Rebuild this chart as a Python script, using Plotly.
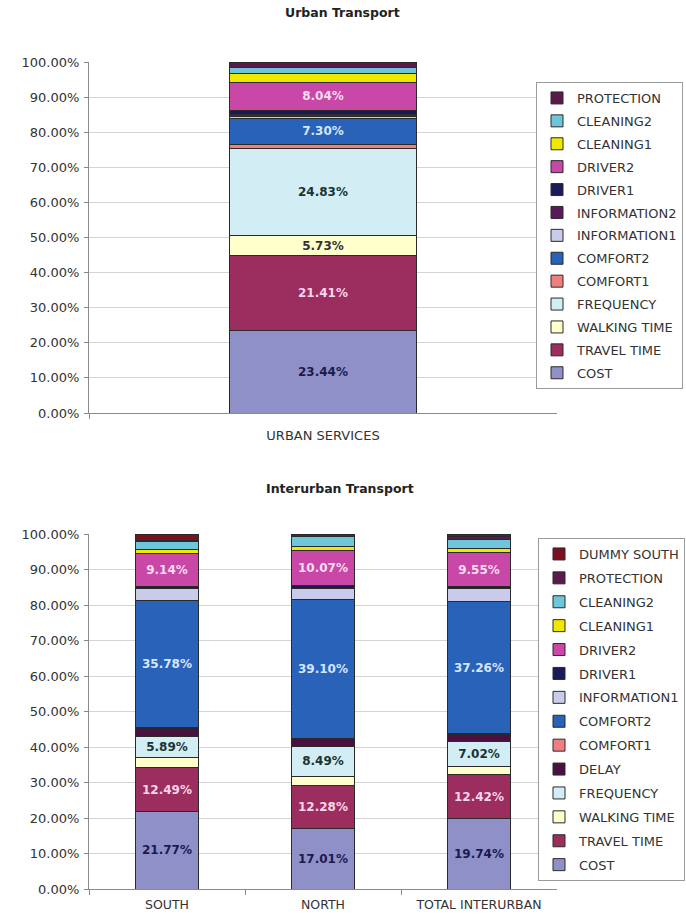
import plotly.graph_objects as go

# ---------------- data ----------------
urban_categories = ["URBAN SERVICES"]
urban_series = ["COST", "TRAVEL TIME", "WALKING TIME", "FREQUENCY", "COMFORT1", "COMFORT2",
                "INFORMATION1", "INFORMATION2", "DRIVER1", "DRIVER2", "CLEANING1", "CLEANING2",
                "PROTECTION"]
urban_values = [23.44, 21.41, 5.73, 24.83, 1.20, 7.30, 0.50, 0.60, 1.20, 8.04, 2.60, 1.70, 1.45]
urban_labelled = ["COST", "TRAVEL TIME", "WALKING TIME", "FREQUENCY", "COMFORT2", "DRIVER2"]

inter_categories = ["SOUTH", "NORTH", "TOTAL INTERURBAN"]
inter_series = ["COST", "TRAVEL TIME", "WALKING TIME", "FREQUENCY", "DELAY", "COMFORT1", "COMFORT2",
                "INFORMATION1", "DRIVER1", "DRIVER2", "CLEANING1", "CLEANING2", "PROTECTION",
                "DUMMY SOUTH"]
cost = [21.77, 17.01, 19.74]
travel_time = [12.49, 12.28, 12.42]
walking_time = [2.80, 2.50, 2.30]
frequency = [5.89, 8.49, 7.02]
delay = [2.40, 2.00, 2.00]
comfort1 = [0.20, 0.10, 0.20]
comfort2 = [35.78, 39.10, 37.26]
information1 = [3.40, 3.30, 3.60]
driver1 = [0.60, 0.60, 0.60]
driver2 = [9.14, 10.07, 9.55]
cleaning1 = [1.10, 0.90, 1.30]
cleaning2 = [2.30, 2.90, 2.60]
protection = [0.40, 0.75, 0.60]
dummy_south = [1.73, 0.00, 0.81]
inter_values = [cost, travel_time, walking_time, frequency, delay, comfort1, comfort2,
                information1, driver1, driver2, cleaning1, cleaning2, protection, dummy_south]
inter_labelled = ["COST", "TRAVEL TIME", "FREQUENCY", "COMFORT2", "DRIVER2"]

y_ticks = [0, 10, 20, 30, 40, 50, 60, 70, 80, 90, 100]
y_tick_labels = [f"{t:.2f}%" for t in y_ticks]

# ---------------- styles ----------------
colors = {
    "COST": "#9090C8", "TRAVEL TIME": "#9B2D5F", "WALKING TIME": "#FFFFCC",
    "FREQUENCY": "#D2EEF4", "COMFORT1": "#F08080", "COMFORT2": "#2862B9",
    "INFORMATION1": "#CACAEA", "INFORMATION2": "#5A1A5A", "DRIVER1": "#1A1A5A",
    "DRIVER2": "#C847A7", "CLEANING1": "#F0E800", "CLEANING2": "#6EC6DA",
    "PROTECTION": "#5A1A4A", "DELAY": "#4A1040", "DUMMY SOUTH": "#7A1020",
}
text_colors = {
    "COST": "#1A1A4E", "TRAVEL TIME": "#F8D6EA", "WALKING TIME": "#333333",
    "FREQUENCY": "#1A3333", "COMFORT2": "#D6E6FF", "DRIVER2": "#FADCF0",
}
FONT = "DejaVu Sans"

fig = go.Figure()

n_u = len(urban_series)
for i, (name, v) in enumerate(zip(urban_series, urban_values)):
    show = name in urban_labelled
    fig.add_trace(go.Bar(
        x=urban_categories, y=[v], name=name, xaxis="x", yaxis="y",
        marker=dict(color=colors[name], line=dict(color="#2A2A2A", width=1)),
        text=[f"{v:.2f}%" if show else ""], textposition="inside",
        insidetextanchor="middle", textangle=0,
        insidetextfont=dict(family=FONT, size=12, color=text_colors.get(name, "#000"), weight="bold"),
        legend="legend", legendgroup="u_" + name, legendrank=100 + n_u - i, hoverinfo="name+y",
    ))

n_i = len(inter_series)
for i, (name, vals) in enumerate(zip(inter_series, inter_values)):
    show = name in inter_labelled
    fig.add_trace(go.Bar(
        x=inter_categories, y=vals, name=name, xaxis="x2", yaxis="y2",
        marker=dict(color=colors[name], line=dict(color="#2A2A2A", width=1)),
        text=[f"{v:.2f}%" if show else "" for v in vals], textposition="inside",
        insidetextanchor="middle", textangle=0,
        insidetextfont=dict(family=FONT, size=12, color=text_colors.get(name, "#000"), weight="bold"),
        legend="legend2", legendgroup="i_" + name, legendrank=100 + n_i - i, hoverinfo="name+y",
    ))

xdom = [89 / 686, 557 / 686]
axis_common = dict(
    showgrid=False, showline=True, linecolor="#8A8A8A", linewidth=1,
    ticks="outside", ticklen=5, tickcolor="#8A8A8A", tickson="boundaries",
    fixedrange=True, automargin=False,
)
yaxis_common = dict(
    range=[0, 100], tickvals=y_ticks, ticktext=y_tick_labels,
    showgrid=True, gridcolor="#D4D4D4", gridwidth=1,
    showline=True, linecolor="#8A8A8A", linewidth=1,
    ticks="outside", ticklen=4, tickcolor="#8A8A8A",
    tickfont=dict(family=FONT, size=13, color="#333333"), zeroline=False,
    ticklabelstandoff=2, fixedrange=True, automargin=False,
)

legend_common = dict(
    xanchor="left", yanchor="top", bgcolor="#FFFFFF", bordercolor="#9A9A9A", borderwidth=1,
    font=dict(family=FONT, size=13, color="#333333"), traceorder="grouped",
    itemclick=False, itemdoubleclick=False,
)

fig.update_layout(
    width=686, height=916, margin=dict(l=0, r=0, t=0, b=0, autoexpand=False),
    paper_bgcolor="#FFFFFF", plot_bgcolor="#FFFFFF",
    barmode="stack", bargap=0.6,
    font=dict(family=FONT, color="#333333"),
    xaxis=dict(domain=xdom, anchor="y", tickfont=dict(family=FONT, size=13, color="#333333"),
               ticklabelstandoff=10, **axis_common),
    yaxis=dict(domain=[1 - 413 / 916, 1 - 62 / 916], anchor="x", **yaxis_common),
    xaxis2=dict(domain=xdom, anchor="y2", tickfont=dict(family=FONT, size=12.5, color="#333333"),
                ticklabelstandoff=4, **axis_common),
    yaxis2=dict(domain=[1 - 889 / 916, 1 - 534 / 916], anchor="x2", **yaxis_common),
    legend=dict(x=536 / 686, y=1 - 82 / 916, tracegroupgap=3, **legend_common),
    legend2=dict(x=538 / 686, y=1 - 538 / 916, tracegroupgap=4, **legend_common),
    annotations=[
        dict(text="<b>Urban Transport</b>", x=342 / 686, y=1 - 12 / 916, xref="paper", yref="paper",
             showarrow=False, xanchor="center", yanchor="middle",
             font=dict(family=FONT, size=12.5, color="#222222")),
        dict(text="<b>Interurban Transport</b>", x=340 / 686, y=1 - 488 / 916, xref="paper", yref="paper",
             showarrow=False, xanchor="center", yanchor="middle",
             font=dict(family=FONT, size=12.5, color="#222222")),
    ],
    showlegend=True,
)

fig.write_html("out.html", config={"displayModeBar": False},
               post_script="document.body.style.margin='0';")
